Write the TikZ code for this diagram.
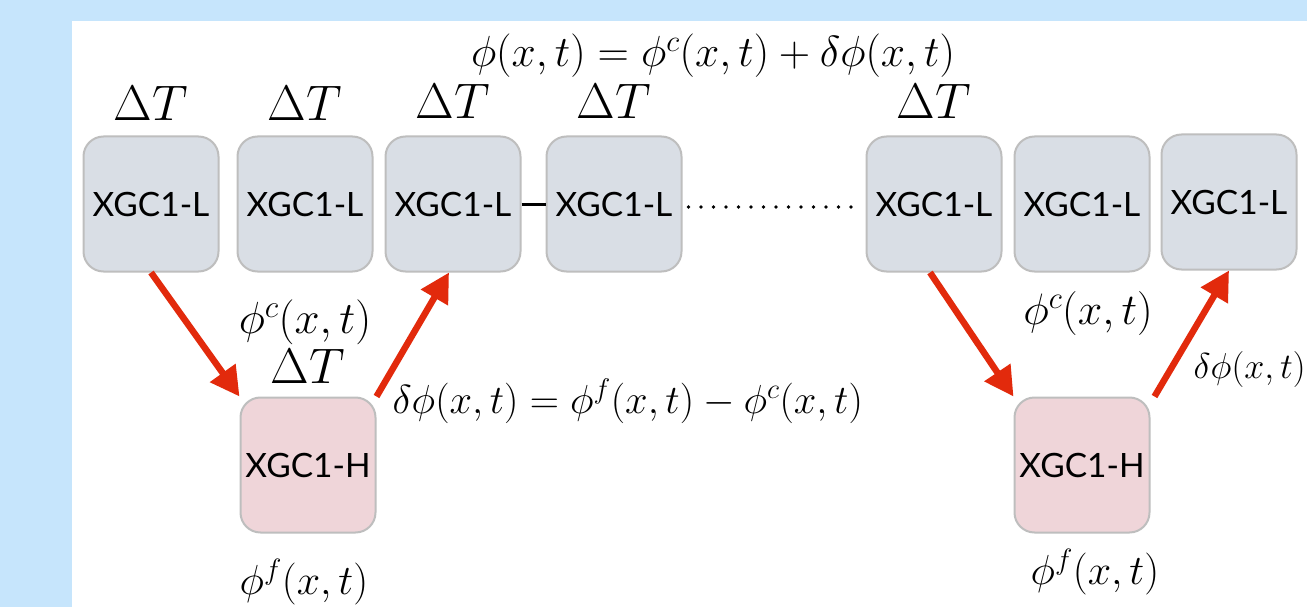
\RequirePackage{fix-cm}
\documentclass[tikz,border=0pt]{standalone}
\usepackage{fontspec}
\newfontfamily\boxfont{Lato}
\usetikzlibrary{arrows.meta,positioning,calc}

\definecolor{bgblue}{HTML}{C6E5FC}
\definecolor{boxgray}{HTML}{D9DEE5}
\definecolor{boxpink}{HTML}{EFD5D9}
\definecolor{boxline}{HTML}{BEBEBE}
\definecolor{arrred}{HTML}{E22A0C}

\begin{document}
\begin{tikzpicture}[
			x=1pt, y=1pt,
			every node/.style={font=\fontsize{42}{50}\selectfont},
			coarse/.style={draw=boxline, line width=2pt, rounded corners=20pt, fill=boxgray, minimum width=135pt, minimum height=135pt, inner sep=0pt, font=\boxfont\fontsize{33.5}{40}\selectfont},
			fine/.style={coarse, fill=boxpink},
			lbl/.style={inner sep=0pt},
			dt/.style={inner sep=0pt, font=\fontsize{50}{60}\selectfont},
			link/.style={line width=3pt},
			dots/.style={line width=3.8pt, line cap=round, dash pattern=on 0pt off 12.5pt},
			ar/.style={-{Triangle[length=29pt,width=30pt]}, line width=6.5pt, draw=arrred}]
			\useasboundingbox (0,0) rectangle (1307,-607);
			\fill[bgblue] (0,0) rectangle (1307,-607);
			\fill[white] (72,-21) rectangle (1307,-607);
			% coarse runs
			\node[coarse] (B1) at (151,-204) {XGC1-L};
			\node[coarse, right=17pt of B1] (B2) {XGC1-L};
			\node[coarse, right=11pt of B2] (B3) {XGC1-L};
			\node[coarse, right=24pt of B3] (B4) {XGC1-L};
			\node[coarse, right=183pt of B4] (B5) {XGC1-L};
			\node[coarse, right=11pt of B5] (B6) {XGC1-L};
			\node[coarse, right=10pt of B6, yshift=2pt] (B7) {XGC1-L};
			% fine runs
			\node[fine, below=124pt of B2, xshift=3pt] (H1) {XGC1-H};
			\node[fine, below=124pt of B6] (H2) {XGC1-H};
			% time steps
			\node[dt, above=15pt of B1] (dt1) {$\Delta T$};
			\node[dt, above=15pt of B2] (dt2) {$\Delta T$};
			\node[dt, above=17pt of B3] (dt3) {$\Delta T$};
			\node[dt, above=17pt of B4] (dt4) {$\Delta T$};
			\node[dt, above=17pt of B5] (dt5) {$\Delta T$};
			\node[dt, above=13pt of H1] (dth) {$\Delta T$};
			% fields
			\node[lbl, anchor=base, font=\fontsize{43.5}{52}\selectfont] (sum) at (713,-67) {$\phi(x,t) = \phi^c(x,t) + \delta\phi(x,t)$};
			\node[lbl, below=27pt of B2, font=\fontsize{45}{54}\selectfont] (pc1) {$\phi^c(x,t)$};
			\node[lbl, below=25pt of H1, xshift=-4pt] (pf1) {$\phi^f(x,t)$};
			\node[lbl, anchor=base west, font=\fontsize{40.5}{48}\selectfont] (dif) at ([xshift=16pt,yshift=-17pt]H1.north east) {$\delta\phi(x,t) = \phi^f(x,t) - \phi^c(x,t)$};
			\node[lbl, below=19pt of B6, xshift=6pt, font=\fontsize{44}{52}\selectfont] (pc2) {$\phi^c(x,t)$};
			\node[lbl, below=15pt of H2, xshift=13pt] (pf2) {$\phi^f(x,t)$};
			\node[lbl, anchor=base west, font=\fontsize{36}{43}\selectfont] (dp2) at ([xshift=43pt,yshift=18pt]H2.north east) {$\delta\phi(x,t)$};
			% connectors
			\draw[link] (B3) -- (B4);
			\draw[dots] (B4.east) ++(6,-3) -- ([xshift=-6pt,yshift=-3pt]B5.west);
			\draw[ar] (B1.south) -- (H1.north west);
			\draw[ar] (H1.north east) -- ([xshift=-4pt]B3.south);
			\draw[ar] ([xshift=-4pt]B5.south) -- (H2.north west);
			\draw[ar] ([xshift=4pt]H2.north east) -- (B7.south);
		\end{tikzpicture}
\end{document}
